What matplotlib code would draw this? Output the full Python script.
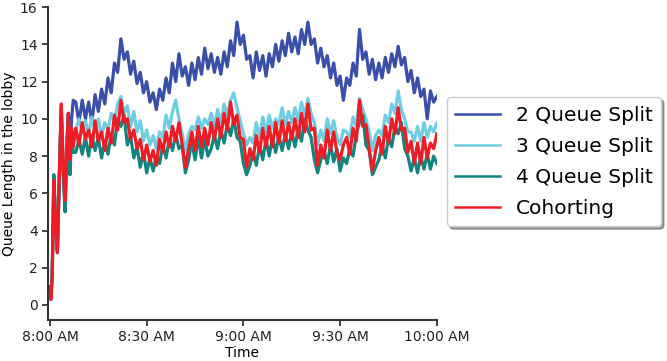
import matplotlib
matplotlib.use("Agg")
import matplotlib.pyplot as plt

# time in minutes after 8:00 AM
t_early = [0, 0.3, 0.7, 1.2, 1.7, 2.3, 2.9, 3.5, 4.1, 4.7, 5.2, 5.7, 6.2, 6.7, 7.2]
minutes = t_early + list(range(8, 121))

q2_early = [0.9, 0.3, 1.6, 6.8, 4.6, 2.9, 6.9, 10.7, 7.4, 5.5, 8.4, 10.3, 8.0, 10.0, 11.0]
q3_early = [0.9, 0.35, 1.6, 6.9, 4.6, 2.9, 6.9, 10.7, 7.3, 5.3, 8.3, 10.2, 7.5, 9.3, 8.8]
q4_early = [1.0, 0.4, 1.8, 7.0, 4.8, 3.0, 6.8, 10.5, 7.0, 5.0, 8.0, 10.0, 7.0, 9.0, 8.2]
coh_early = [0.8, 0.3, 1.5, 6.7, 4.5, 2.8, 7.0, 10.8, 7.5, 5.6, 8.5, 10.3, 7.8, 9.5, 8.5]

q2_main = [10.9, 9.8, 11.0, 10.0, 10.9, 9.8, 11.3, 10.4, 11.6, 10.8, 12.2, 11.4, 13.0, 12.5, 14.3, 13.2,
           13.6, 12.4, 13.1, 11.9, 12.5, 11.4, 12.0, 10.9, 11.4, 10.5, 11.6, 11.0, 12.2, 11.4, 13.0, 12.0,
           13.5, 12.3, 12.8, 11.8, 13.0, 12.1, 13.3, 12.4, 13.8, 12.7, 13.5, 12.5, 13.3, 12.4, 13.6, 12.8,
           14.2, 13.4, 15.2, 14.0, 14.5, 13.2, 13.4, 12.2, 13.6, 12.6, 13.4, 12.3, 13.5, 12.8, 14.0, 13.1,
           14.2, 13.4, 14.6, 13.6, 14.4, 13.5, 14.8, 14.0, 15.2, 14.0, 14.3, 13.0, 13.8, 12.8, 13.4, 12.2,
           13.0, 11.8, 12.3, 11.0, 12.2, 11.8, 13.0, 12.3, 14.8, 13.2, 13.6, 12.4, 13.2, 12.1, 13.0, 12.2,
           13.3, 12.5, 13.5, 12.8, 13.9, 12.9, 13.3, 12.0, 12.6, 11.4, 12.2, 11.2, 11.6, 10.0, 11.5, 10.9,
           11.2]
q3_main = [9.4, 10.0, 9.3, 9.9, 9.2, 10.1, 9.4, 10.0, 9.1, 9.8, 9.4, 10.3, 9.9, 10.8, 11.2, 10.3,
           10.7, 9.6, 10.4, 9.3, 9.9, 8.8, 9.4, 8.6, 9.1, 8.4, 9.3, 9.0, 10.2, 9.5, 10.4, 11.0,
           10.0, 9.2, 8.3, 9.2, 9.6, 9.4, 10.1, 9.5, 10.0, 9.7, 10.3, 9.6, 10.5, 9.8, 10.8, 10.2,
           11.0, 11.4, 10.6, 9.9, 9.2, 8.6, 9.0, 8.7, 9.8, 9.0, 10.1, 9.3, 10.2, 9.5, 10.0, 9.7,
           10.6, 9.7, 10.4, 9.8, 10.6, 9.9, 10.9, 10.2, 11.1, 10.3, 9.8, 8.6, 9.4, 8.8, 10.0, 9.2,
           9.9, 9.0, 8.6, 9.4, 9.3, 9.0, 10.1, 9.6, 11.1, 10.5, 10.0, 9.3, 8.3, 9.1, 9.4, 9.1,
           10.2, 9.8, 10.8, 10.3, 11.5, 10.5, 10.0, 9.3, 9.3, 8.8, 9.6, 8.8, 9.8, 9.0, 9.6, 9.3,
           9.8]
q4_main = [8.2, 8.9, 8.1, 9.0, 8.0, 9.1, 8.3, 9.0, 7.9, 8.8, 8.1, 9.2, 8.6, 10.0, 9.6, 10.2,
           8.6, 9.1, 7.9, 8.5, 7.4, 8.2, 7.1, 7.9, 7.2, 8.0, 7.6, 8.6, 7.9, 8.9, 8.3, 9.2,
           8.4, 8.6, 7.1, 7.8, 8.8, 7.8, 9.0, 7.9, 8.9, 8.0, 8.4, 9.1, 8.4, 9.4, 8.7, 9.7,
           9.1, 10.0, 9.0, 8.8, 7.6, 7.0, 7.5, 8.2, 7.5, 8.6, 7.8, 8.9, 8.0, 9.0, 8.2, 9.1,
           8.3, 9.2, 8.4, 9.3, 8.5, 9.5, 8.8, 10.0, 9.4, 9.0, 7.8, 7.1, 7.8, 8.3, 7.6, 8.6,
           7.7, 8.4, 7.2, 7.9, 7.6, 8.4, 8.0, 9.2, 9.8, 10.2, 8.6, 8.3, 7.0, 7.4, 7.8, 8.6,
           7.9, 9.0, 8.5, 9.6, 9.2, 9.8, 8.4, 8.0, 7.2, 7.9, 7.1, 8.0, 7.3, 8.1, 7.3, 8.0,
           7.6]
coh_main = [9.5, 8.6, 9.8, 8.9, 9.4, 8.5, 9.9, 8.8, 9.3, 8.3, 9.5, 8.7, 10.2, 9.4, 11.0, 9.8,
            10.0, 8.9, 9.4, 8.4, 8.9, 7.8, 8.6, 7.7, 8.3, 7.5, 8.9, 8.2, 9.3, 8.5, 9.6, 8.8,
            9.8, 8.6, 7.4, 8.4, 9.3, 8.3, 9.6, 8.5, 9.5, 8.6, 9.8, 8.9, 10.0, 9.0, 10.3, 9.4,
            10.9, 9.7, 10.2, 9.0, 8.9, 7.4, 8.4, 7.8, 9.1, 8.2, 9.5, 8.5, 9.6, 8.5, 9.8, 8.7,
            9.9, 8.8, 9.8, 8.9, 10.0, 9.0, 10.3, 9.3, 10.8, 9.4, 9.5, 7.5, 8.6, 7.9, 9.4, 8.3,
            9.3, 8.2, 7.8, 8.6, 9.0, 8.1, 9.5, 8.8, 11.0, 9.6, 9.7, 8.4, 7.2, 8.3, 9.0, 8.1,
            9.6, 8.7, 10.0, 9.2, 10.6, 9.4, 9.5, 8.2, 8.8, 7.6, 8.7, 7.6, 9.0, 7.9, 8.7, 8.4,
            9.2]

queue2 = q2_early + q2_main
queue3 = q3_early + q3_main
queue4 = q4_early + q4_main
cohorting = coh_early + coh_main

series_names = ["2 Queue Split", "3 Queue Split", "4 Queue Split", "Cohorting"]
tick_minutes = [0, 30, 60, 90, 120]
tick_labels = ["8:00 AM", "8:30 AM", "9:00 AM", "9:30 AM", "10:00 AM"]
y_ticks = [0, 2, 4, 6, 8, 10, 12, 14, 16]

colors = ["#3a4fa8", "#6fcde3", "#10857f", "#ee1d25"]

fig = plt.figure(figsize=(6.67, 3.61), dpi=100)
ax = fig.add_axes([0.072, 0.114, 0.583, 0.866])

for vals, name, c in zip([queue2, queue3, queue4, cohorting], series_names, colors):
    ax.plot(minutes, vals, color=c, lw=2.3, label=name)

ax.set_xlim(-0.6, 120)
ax.set_ylim(-0.8, 16)
ax.set_xticks(tick_minutes)
ax.set_xticklabels(tick_labels)
ax.set_yticks(y_ticks)
ax.tick_params(labelsize=10, colors="#222222", length=4, width=1.2)
for s in ["top", "right"]:
    ax.spines[s].set_visible(False)
for s in ["left", "bottom"]:
    ax.spines[s].set_color("#333333")
    ax.spines[s].set_linewidth(1.5)
ax.set_xlabel("Time", fontsize=10, labelpad=1)
ax.set_ylabel("Queue Length in the lobby", fontsize=10, labelpad=3)

leg = ax.legend(loc="upper left", bbox_to_anchor=(0.670, 0.731), bbox_transform=fig.transFigure,
                borderaxespad=0, fontsize=14.5, shadow=True, fancybox=True, frameon=True,
                handlelength=2.2, handletextpad=0.8, borderpad=0.42, labelspacing=0.6)
leg.get_frame().set_edgecolor("#cccccc")
for line in leg.get_lines():
    line.set_linewidth(1.8)

fig.savefig("out.png", dpi=100)
